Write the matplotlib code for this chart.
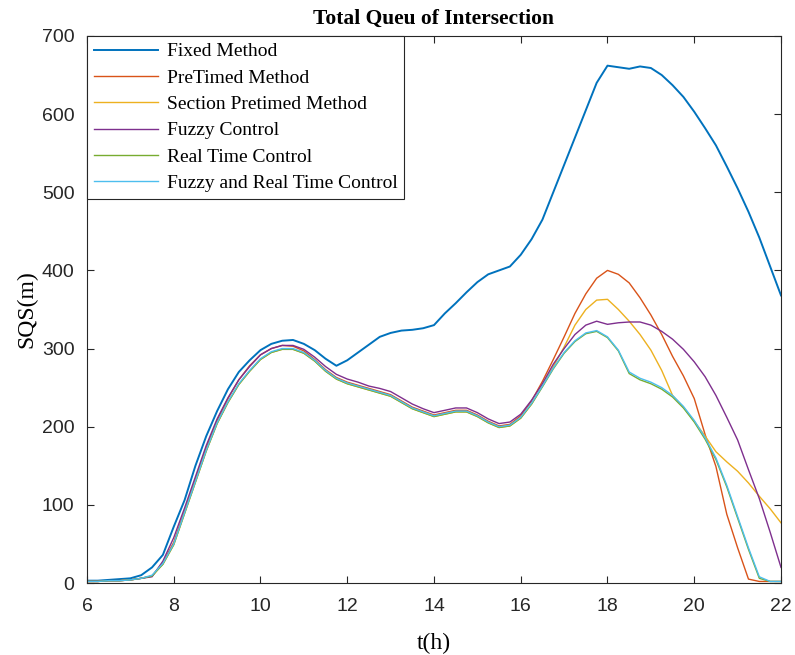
import numpy as np
import matplotlib
matplotlib.use('Agg')
import matplotlib.pyplot as plt

# time axis, hours (read every 0.25 h)
t = np.arange(6, 22.001, 0.25)

fixed = [3, 3, 4, 5, 6, 10, 20, 36, 72, 106, 150, 188,
         220, 248, 270, 285, 298, 306, 310, 311, 306, 298, 287, 278,
         285, 295, 305, 315, 320, 323, 324, 326, 330, 345, 358, 372,
         385, 395, 400, 405, 420, 440, 465, 500, 535, 570, 605, 640,
         662, 660, 658, 661, 659, 650, 637, 622, 603, 582, 560, 533,
         505, 475, 442, 405, 368]

pretimed = [2, 2, 3, 3, 4, 6, 9, 26, 52, 92, 133, 173,
            208, 236, 260, 278, 292, 300, 304, 303, 297, 286, 273, 263,
            257, 253, 249, 245, 241, 233, 225, 220, 215, 218, 221, 221,
            215, 207, 201, 203, 214, 233, 258, 286, 315, 345, 370, 390,
            400, 395, 384, 365, 343, 318, 290, 265, 236, 190, 149, 88,
            45, 5, 2, 2, 2]

section = [2, 2, 3, 3, 4, 6, 9, 24, 49, 89, 129, 169,
           204, 231, 254, 271, 286, 295, 299, 299, 294, 284, 271, 261,
           255, 251, 247, 243, 239, 231, 223, 218, 213, 216, 219, 219,
           213, 205, 199, 201, 211, 229, 252, 277, 302, 330, 350, 362,
           363, 350, 335, 318, 298, 272, 240, 225, 207, 188, 168, 155,
           143, 128, 111, 95, 77]

fuzzy = [2, 2, 3, 3, 4, 6, 8, 28, 58, 96, 136, 176,
         210, 237, 260, 277, 292, 300, 304, 304, 299, 289, 277, 267,
         261, 257, 252, 249, 245, 237, 229, 223, 218, 221, 224, 224,
         218, 210, 204, 206, 216, 234, 255, 280, 300, 318, 330, 335,
         331, 333, 334, 334, 330, 322, 312, 299, 283, 264, 240, 212,
         183, 145, 108, 65, 20]

realtime = [2, 2, 3, 3, 4, 6, 9, 24, 49, 89, 129, 169,
            204, 231, 254, 271, 286, 295, 299, 299, 294, 284, 271, 261,
            255, 251, 247, 243, 239, 231, 223, 218, 213, 216, 219, 219,
            213, 205, 199, 201, 211, 229, 251, 274, 294, 309, 319, 322,
            314, 297, 268, 260, 255, 248, 238, 224, 206, 184, 158, 123,
            83, 43, 6, 2, 2]

fuzzy_real = [2, 2, 3, 3, 4, 6, 10, 25, 50, 90, 130, 170,
              205, 232, 255, 272, 287, 296, 300, 300, 295, 285, 272, 262,
              256, 252, 248, 244, 240, 232, 224, 219, 214, 217, 220, 220,
              214, 206, 200, 202, 212, 230, 252, 275, 295, 310, 320, 323,
              315, 298, 270, 262, 257, 250, 240, 226, 208, 186, 160, 125,
              85, 45, 8, 2, 2]

names = ['Fixed Method', 'PreTimed Method', 'Section Pretimed Method',
         'Fuzzy Control', 'Real Time Control', 'Fuzzy and Real Time Control']
colors = ['#0072BD', '#D95319', '#EDB120', '#7E2F8E', '#77AC30', '#4DBEEE']
series = [fixed, pretimed, section, fuzzy, realtime, fuzzy_real]

serif = ['Liberation Serif', 'DejaVu Serif']
sans = ['Liberation Sans', 'DejaVu Sans']

fig = plt.figure(figsize=(7.95, 6.55), dpi=100)
ax = fig.add_axes([0.1094, 0.1099, 0.873, 0.8352])

for y, name, c in zip(series, names, colors):
    lw = 1.4 if name == 'Fixed Method' else 1.0
    ax.plot(t, y, color=c, linewidth=lw, label=name)

ax.set_xlim(6, 22)
ax.set_ylim(0, 700)
ax.set_xticks(np.arange(6, 23, 2))
ax.set_yticks(np.arange(0, 701, 100))
ax.tick_params(direction='in', length=5, width=0.8, top=True, right=True,
               colors='#262626', labelsize=14, pad=9)
ax.tick_params(axis='x', pad=11)
for lab in ax.get_xticklabels() + ax.get_yticklabels():
    lab.set_family(sans)
for sp in ax.spines.values():
    sp.set_color('#262626')
    sp.set_linewidth(0.8)

ax.set_title('Total Queu of Intersection', family=serif, fontsize=15.5,
             fontweight='bold', pad=9)
ax.set_xlabel('t(h)', family=serif, fontsize=17, labelpad=13)
ax.set_ylabel('SQS(m)', family=serif, fontsize=17, labelpad=3)

leg = ax.legend(loc='upper left', prop={'family': serif, 'size': 14},
                handlelength=3.3, borderaxespad=0, fancybox=False,
                framealpha=1, labelspacing=0.45, handletextpad=0.45,
                borderpad=0.35)
leg.get_frame().set_edgecolor('#262626')
leg.get_frame().set_linewidth(0.8)

plt.savefig('out.png', dpi=100)
plt.close()
